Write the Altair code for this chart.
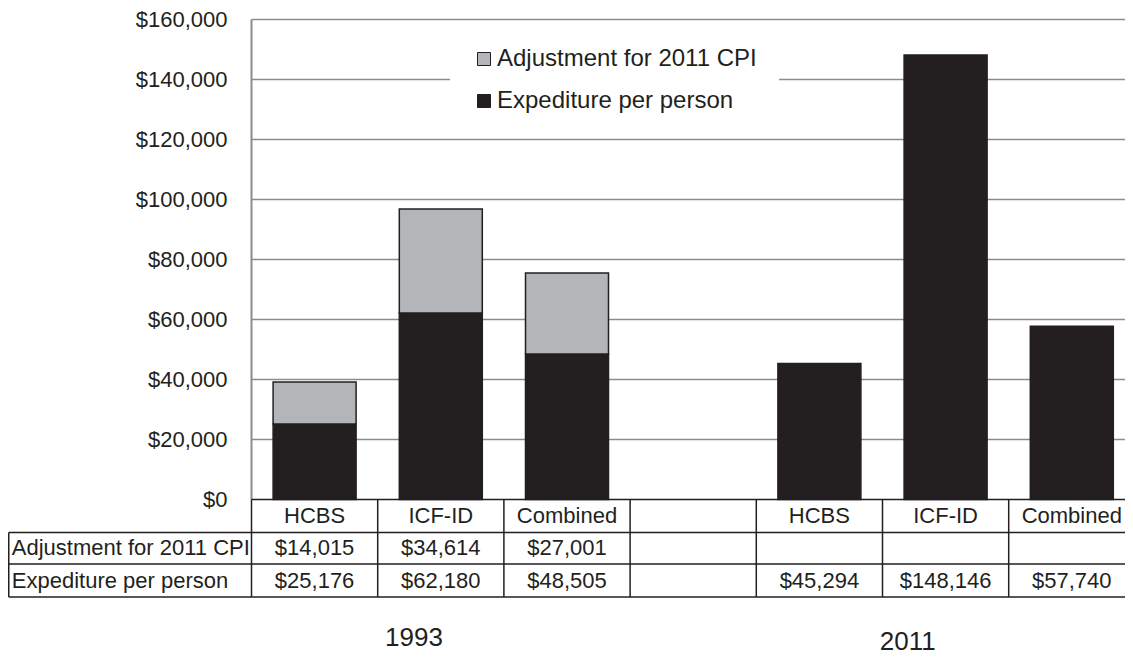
import altair as alt
import pandas as pd

# ---------------- data ----------------
slots = [0, 1, 2, 4, 5, 6]                     # column index of each category (column 3 is empty)
categories = ["HCBS", "ICF-ID", "Combined", "HCBS", "ICF-ID", "Combined"]
years = ["1993", "1993", "1993", "2011", "2011", "2011"]
expenditure = [25176, 62180, 48505, 45294, 148146, 57740]
adjustment = [14015, 34614, 27001, None, None, None]
series_names = ["Adjustment for 2011 CPI", "Expediture per person"]
tick_values = [0, 20000, 40000, 60000, 80000, 100000, 120000, 140000, 160000]
year_labels = ["1993", "2011"]

# ---------------- layout constants ----------------
W, H = 1117, 648
COL_PX = 126.2                 # pixels per column
AXIS_PX = 243.5                # pixel offset of the value axis inside the view
PX_PER_UNIT_Y = 3 / 1000.0     # pixels per dollar
ZERO_PX = 491.5                # pixel row of $0 inside the view
XMIN = -AXIS_PX / COL_PX
XMAX = (W - AXIS_PX) / COL_PX
YMAX = ZERO_PX / PX_PER_UNIT_Y
YMIN = -(H - ZERO_PX) / PX_PER_UNIT_Y
NCOL = 7
ROW_EDGES = [0, -11000, -21500, -32500]        # table row borders (in y units)
ROW_CENTERS = [(ROW_EDGES[i] + ROW_EDGES[i + 1]) / 2 for i in range(3)]
HEADER_X = XMIN + 0.03
TICK_LABEL_X = -0.19
YEAR_POS = [(1.288, -48800), (5.20, -50100)]

BLACK = "#231f20"
GRAY = "#b4b5b8"
GRID = "#8c8c8c"
FONT = "Liberation Sans"

xs = alt.Scale(domain=[XMIN, XMAX], nice=False, zero=False, padding=0)
ys = alt.Scale(domain=[YMIN, YMAX], nice=False, zero=False, padding=0)

# ---------------- tables ----------------
bar_rows = []
for s, c, y, e, a in zip(slots, categories, years, expenditure, adjustment):
    bar_rows.append({"center": s + 0.5, "series": series_names[1], "value": e, "ord": 0})
    if a is not None:
        bar_rows.append({"center": s + 0.5, "series": series_names[0], "value": a, "ord": 1})
bars_df = pd.DataFrame(bar_rows)

grid_df = pd.DataFrame({"y": tick_values[1:], "x": 0.0, "x2": XMAX})
axis_df = pd.DataFrame({"x": [0.0], "y": [0], "y2": [tick_values[-1]]})
ticklab_df = pd.DataFrame({"y": tick_values, "x": TICK_LABEL_X})

border_rows = [{"x": 0.0, "x2": XMAX, "y": ROW_EDGES[0], "y2": ROW_EDGES[0]}]
for r in ROW_EDGES[1:]:
    border_rows.append({"x": XMIN + 0.006, "x2": XMAX, "y": r, "y2": r})
for k in range(NCOL):
    border_rows.append({"x": float(k), "x2": float(k), "y": ROW_EDGES[0], "y2": ROW_EDGES[-1]})
border_rows.append({"x": XMIN + 0.006, "x2": XMIN + 0.006, "y": ROW_EDGES[1], "y2": ROW_EDGES[-1]})
borders_df = pd.DataFrame(border_rows)

cell_rows = []
for s, c, e, a in zip(slots, categories, expenditure, adjustment):
    cell_rows.append({"x": s + 0.5, "y": ROW_CENTERS[0], "label": c})
    if a is not None:
        cell_rows.append({"x": s + 0.5, "y": ROW_CENTERS[1], "label": f"${a:,}"})
    cell_rows.append({"x": s + 0.5, "y": ROW_CENTERS[2], "label": f"${e:,}"})
cells_df = pd.DataFrame(cell_rows)

headers_df = pd.DataFrame({"x": [HEADER_X, HEADER_X], "y": ROW_CENTERS[1:], "label": series_names})
years_df = pd.DataFrame({"x": [p[0] for p in YEAR_POS], "y": [p[1] for p in YEAR_POS], "label": year_labels})

# ---------------- layers ----------------
X = lambda f: alt.X(f, scale=xs, axis=None)
Y = lambda f: alt.Y(f, scale=ys, axis=None)

grid = alt.Chart(grid_df).mark_rule(color=GRID, strokeWidth=1.5).encode(
    x=X("x:Q"), x2="x2:Q", y=Y("y:Q"))

axis_line = alt.Chart(axis_df).mark_rule(color=GRID, strokeWidth=2).encode(
    x=X("x:Q"), y=Y("y:Q"), y2="y2:Q")

tick_labels = alt.Chart(ticklab_df).mark_text(fontSize=22, font=FONT, color=BLACK,
                                              align="right", baseline="middle").encode(
    x=X("x:Q"), y=Y("y:Q"), text=alt.Text("y:Q", format="$,.0f"))

legend = alt.Legend(orient="none", legendX=442, legendY=17, padding=22, rowPadding=18,
                    symbolType="square", symbolSize=169, symbolStrokeColor=BLACK,
                    symbolStrokeWidth=1, labelFontSize=24, labelFont=FONT, labelColor=BLACK,
                    labelOffset=1, labelLimit=500, fillColor="white", title=None)

bars = alt.Chart(bars_df).mark_bar(size=83, stroke=BLACK, strokeWidth=1.5).encode(
    x=X("center:Q"),
    y=alt.Y("value:Q", stack="zero", scale=ys, axis=None),
    color=alt.Color("series:N", scale=alt.Scale(domain=series_names, range=[GRAY, BLACK]),
                    legend=legend),
    order=alt.Order("ord:Q"))

borders = alt.Chart(borders_df).mark_rule(color=BLACK, strokeWidth=1.5).encode(
    x=X("x:Q"), x2="x2:Q", y=Y("y:Q"), y2="y2:Q")

cells = alt.Chart(cells_df).mark_text(fontSize=22, font=FONT, color=BLACK,
                                      align="center", baseline="middle").encode(
    x=X("x:Q"), y=Y("y:Q"), text="label:N")

headers = alt.Chart(headers_df).mark_text(fontSize=22, font=FONT, color=BLACK,
                                          align="left", baseline="middle").encode(
    x=X("x:Q"), y=Y("y:Q"), text="label:N")

year_text = alt.Chart(years_df).mark_text(fontSize=26, font=FONT, color=BLACK,
                                          align="center", baseline="alphabetic").encode(
    x=X("x:Q"), y=Y("y:Q"), text="label:N")

chart = alt.layer(grid, axis_line, tick_labels, bars, borders, cells, headers, year_text).properties(
    width=W, height=H, padding=0,
    autosize=alt.AutoSizeParams(type="none"),
).configure_view(strokeWidth=0, stroke="transparent")

chart.save("out.html", embed_options={"renderer": "svg", "actions": False})
